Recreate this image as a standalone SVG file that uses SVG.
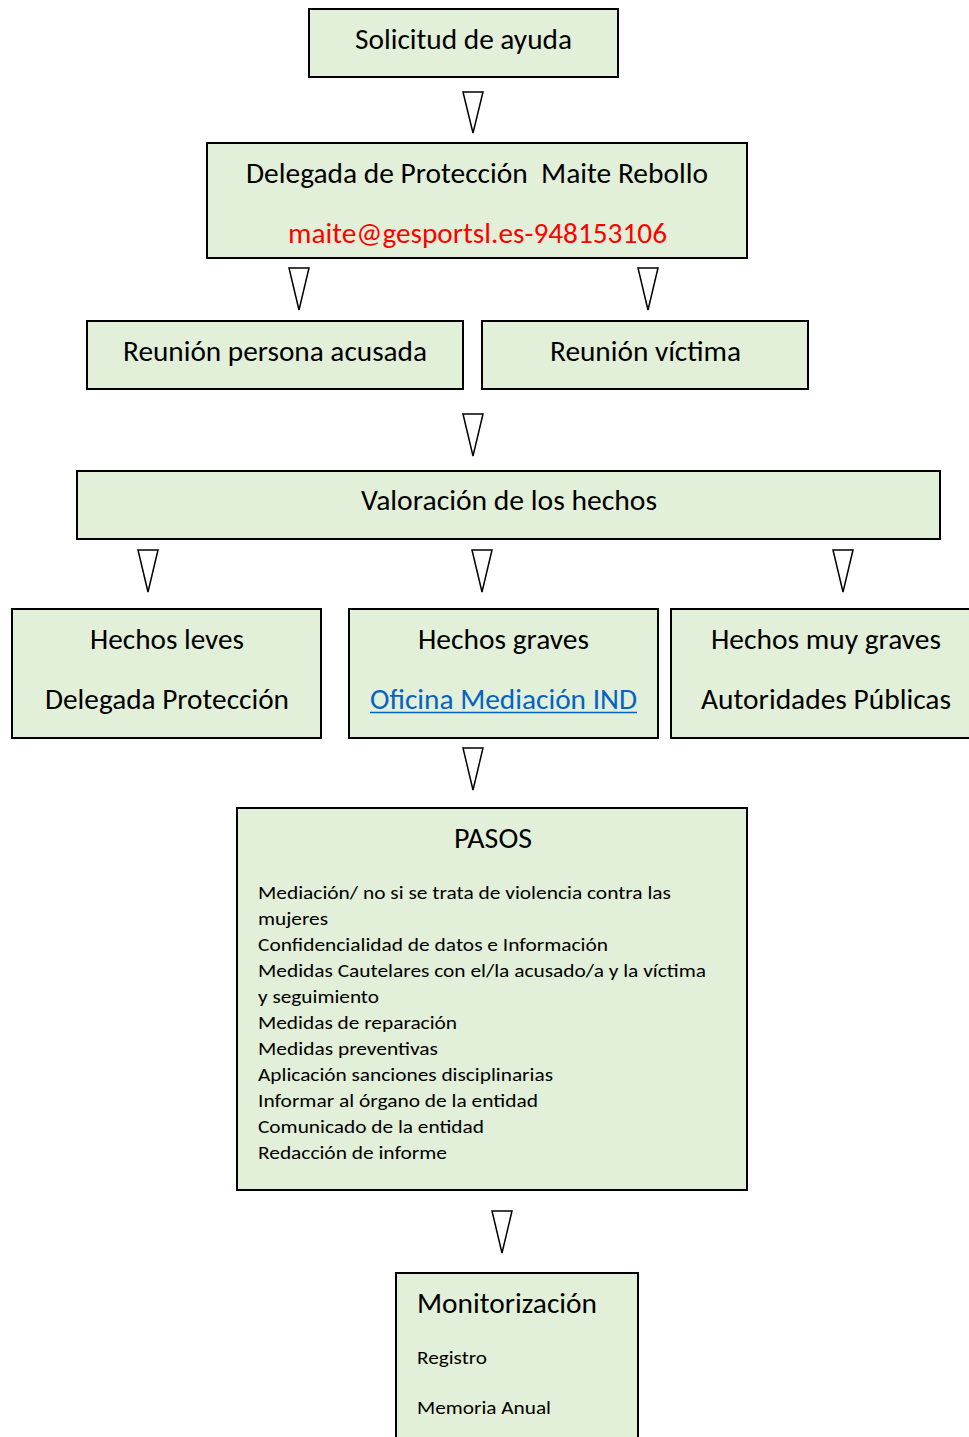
<svg xmlns="http://www.w3.org/2000/svg" width="969" height="1437" viewBox="0 0 969 1437">
<style>
.box{fill:#E2EFD9;stroke:#000;stroke-width:2}
.arr{fill:#fff;stroke:#000;stroke-width:1.5;stroke-linejoin:miter}
text{font-family:Carlito,Lato,"Liberation Sans",sans-serif;fill:#000}
.big{font-size:28px}
.sm{font-size:19px}
.red{fill:#FF0000}
.link{fill:#0563C1}
</style>
<rect width="969" height="1437" fill="#fff"/>
<g id="connectors">
<polygon class="arr" points="463,92 483,92 473,133"/>
<polygon class="arr" points="289,268 309,268 299,310"/>
<polygon class="arr" points="638,268 658,268 648,310"/>
<polygon class="arr" points="463,414 483,414 473,456"/>
<polygon class="arr" points="138,550 158,550 148,592"/>
<polygon class="arr" points="472,550 492,550 482,592"/>
<polygon class="arr" points="833,550 853,550 843,592"/>
<polygon class="arr" points="463,748 483,748 473,790"/>
<polygon class="arr" points="492,1211 512,1211 502,1253"/>
</g>
<g id="n1"><rect class="box" x="309" y="9" width="309" height="68"/>
<text class="big" x="355" y="49" textLength="217" lengthAdjust="spacingAndGlyphs">Solicitud de ayuda</text></g>
<g id="n2"><rect class="box" x="207" y="143" width="540" height="115"/>
<text class="big" x="246" y="183" textLength="462" lengthAdjust="spacingAndGlyphs" xml:space="preserve">Delegada de Protección  Maite Rebollo</text>
<text class="big red" x="288" y="243" textLength="379" lengthAdjust="spacingAndGlyphs">maite@gesportsl.es-948153106</text></g>
<g id="n3"><rect class="box" x="87" y="321" width="376" height="68"/>
<text class="big" x="123" y="361" textLength="304" lengthAdjust="spacingAndGlyphs">Reunión persona acusada</text></g>
<g id="n4"><rect class="box" x="482" y="321" width="326" height="68"/>
<text class="big" x="550" y="361" textLength="191" lengthAdjust="spacingAndGlyphs">Reunión víctima</text></g>
<g id="n5"><rect class="box" x="77" y="471" width="863" height="68"/>
<text class="big" x="361" y="510" textLength="296" lengthAdjust="spacingAndGlyphs">Valoración de los hechos</text></g>
<g id="n6"><rect class="box" x="12" y="609" width="309" height="129"/>
<text class="big" x="90" y="649" textLength="154" lengthAdjust="spacingAndGlyphs">Hechos leves</text>
<text class="big" x="45" y="709" textLength="244" lengthAdjust="spacingAndGlyphs">Delegada Protección</text></g>
<g id="n7"><rect class="box" x="349" y="609" width="309" height="129"/>
<text class="big" x="418" y="649" textLength="171" lengthAdjust="spacingAndGlyphs">Hechos graves</text>
<text class="big link" x="370" y="709" textLength="267" lengthAdjust="spacingAndGlyphs">Oficina Mediación IND</text>
<line x1="370" y1="712.5" x2="637" y2="712.5" stroke="#0563C1" stroke-width="1.5"/></g>
<g id="n8"><rect class="box" x="671" y="609" width="320" height="129"/>
<text class="big" x="711" y="649" textLength="230" lengthAdjust="spacingAndGlyphs">Hechos muy graves</text>
<text class="big" x="701" y="709" textLength="250" lengthAdjust="spacingAndGlyphs">Autoridades Públicas</text></g>
<g id="n9"><rect class="box" x="237" y="808" width="510" height="382"/>
<text class="big" x="454" y="848" textLength="78" lengthAdjust="spacingAndGlyphs">PASOS</text>
<text class="sm" x="258" y="899" textLength="413" lengthAdjust="spacingAndGlyphs">Mediación/ no si se trata de violencia contra las</text>
<text class="sm" x="258" y="925" textLength="70" lengthAdjust="spacingAndGlyphs">mujeres</text>
<text class="sm" x="258" y="951" textLength="350" lengthAdjust="spacingAndGlyphs">Confidencialidad de datos e Información</text>
<text class="sm" x="258" y="977" textLength="448" lengthAdjust="spacingAndGlyphs">Medidas Cautelares con el/la acusado/a y la víctima</text>
<text class="sm" x="258" y="1003" textLength="121" lengthAdjust="spacingAndGlyphs">y seguimiento</text>
<text class="sm" x="258" y="1029" textLength="199" lengthAdjust="spacingAndGlyphs">Medidas de reparación</text>
<text class="sm" x="258" y="1055" textLength="180" lengthAdjust="spacingAndGlyphs">Medidas preventivas</text>
<text class="sm" x="258" y="1081" textLength="295" lengthAdjust="spacingAndGlyphs">Aplicación sanciones disciplinarias</text>
<text class="sm" x="258" y="1107" textLength="280" lengthAdjust="spacingAndGlyphs">Informar al órgano de la entidad</text>
<text class="sm" x="258" y="1133" textLength="226" lengthAdjust="spacingAndGlyphs">Comunicado de la entidad</text>
<text class="sm" x="258" y="1159" textLength="189" lengthAdjust="spacingAndGlyphs">Redacción de informe</text></g>
<g id="n10"><rect class="box" x="396" y="1273" width="242" height="180"/>
<text class="big" x="417" y="1313" textLength="180" lengthAdjust="spacingAndGlyphs">Monitorización</text>
<text class="sm" x="417" y="1364" textLength="70" lengthAdjust="spacingAndGlyphs">Registro</text>
<text class="sm" x="417" y="1414" textLength="134" lengthAdjust="spacingAndGlyphs">Memoria Anual</text></g>
</svg>
